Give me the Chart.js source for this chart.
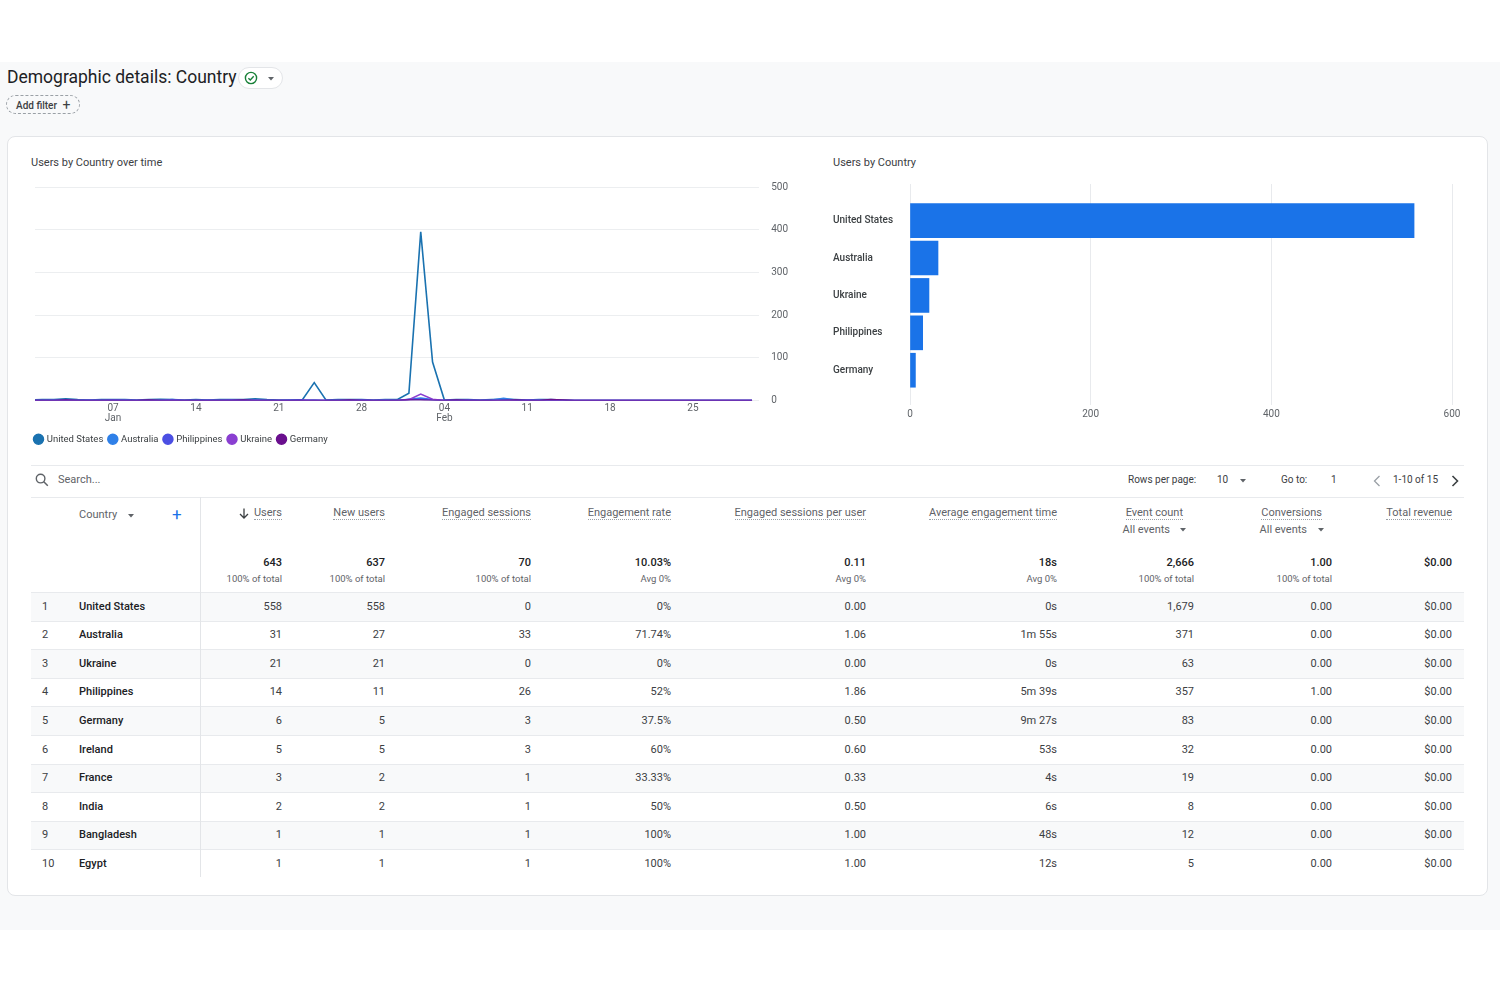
<!DOCTYPE html>
<html>
<head>
<meta charset="utf-8">
<script src="https://cdn.jsdelivr.net/npm/chart.js@4.4.1/dist/chart.umd.min.js"></script>
<style>
  body { margin: 0; width: 1500px; height: 1000px; background: #fff; font-family: Roboto, Arial, sans-serif; position: relative; overflow: hidden; }
  .bg { position: absolute; left: 0; top: 62px; width: 1500px; height: 868px; background: #f8f9fa; }
  .abs { position: absolute; white-space: nowrap; }
  .abs svg { display: block; }
  .card { position: absolute; left: 7px; top: 136px; width: 1481px; height: 760px; background: #fff; border: 1px solid #e3e5e8; border-radius: 8px; box-sizing: border-box; }
  .title { left: 7px; top: 67px; font-size: 17.5px; color: #202124; }
  .pill { left: 238px; top: 67px; width: 45px; height: 22px; border: 1px solid #e3e5e8; border-radius: 11px; background: #fff; box-sizing: border-box; }
  .filter { left: 6px; top: 95px; width: 74px; height: 19px; border: 1px dashed #9aa0a6; border-radius: 10px; box-sizing: border-box; font-size: 10px; font-weight: 500; color: #3c4043; line-height: 17px; padding-left: 9px; }
  .ctitle { font-size: 11px; color: #3c4043; }
  .hline { position: absolute; height: 1px; background: #e8eaed; }
  .vline { position: absolute; width: 1px; background: #e3e5e8; }
  .hdr { font-size: 11px; color: #5f6368; border-bottom: 1px dotted #9aa0a6; line-height: 13px; }
  .sub { font-size: 11px; color: #5f6368; }
  .tot { font-size: 11px; font-weight: 500; color: #202124; }
  .totsub { font-size: 9.5px; color: #5f6368; }
  .cell { font-size: 11px; color: #3c4043; line-height: 14px; }
  .name { font-size: 11px; font-weight: 500; color: #202124; line-height: 14px; }
  .rowbg { position: absolute; left: 31px; width: 1433px; background: #f8f9fa; }
  .pager { font-size: 10px; color: #3c4043; }
  .flex { display: flex; align-items: center; }
</style>
</head>
<body>
<div class="bg"></div>
<div class="abs title">Demographic details: Country</div>
<div class="abs pill">
  <svg width="14" height="14" viewBox="0 0 14 14" style="position:absolute;left:5px;top:3px">
    <circle cx="7" cy="7" r="5.6" fill="none" stroke="#188038" stroke-width="1.4"/>
    <path d="M4.4 7.2 L6.3 9 L9.7 5.3" fill="none" stroke="#188038" stroke-width="1.4"/>
  </svg>
  <svg width="8" height="6" viewBox="0 0 8 6" style="position:absolute;left:28px;top:8px"><path d="M1 1 L7 1 L4 4.5 Z" fill="#5f6368"/></svg>
</div>
<div class="abs filter">Add filter <span style="font-size:14px;font-weight:400;position:relative;top:1px;margin-left:3px">+</span></div>

<div class="card"></div>
<div class="abs ctitle" style="left:31px;top:156px">Users by Country over time</div>
<div class="abs ctitle" style="left:833px;top:156px">Users by Country</div>

<div class="abs" style="left:20px;top:169px;width:780px;height:285px"><canvas id="lineChart"></canvas></div>
<div class="abs" style="left:825px;top:175px;width:650px;height:255px"><canvas id="barChart"></canvas></div>

<div id="table"></div>

<script>
// ---- line chart data (one value per day, Dec 31 .. Mar 1) ----
const firstDay = -1; // day index of first value, Jan 1 = 0
const usDaily = [1,2,2,4,2,1,2,2,2,1,2,3,2,1,2,1,2,2,2,4,2,1,1,2,42,1,2,2,2,1,2,2,17,395,90,1,2,2,1,2,3,2,1,2,2,1,0,0,0,0,0,0,0,0,0,0,0,0,0,0,0,0];
const australiaDaily = [0,0,1,0,0,1,0,0,1,0,0,0,2,0,0,1,0,0,0,1,0,0,1,0,1,0,0,1,0,0,1,0,3,6,2,0,1,0,0,1,5,1,0,1,0,0,0,0,0,0,0,0,0,0,0,0,0,0,0,0,0,0];
const philippinesDaily = [0,0,0,1,0,0,0,1,0,0,0,0,1,0,0,0,0,1,0,0,0,0,0,1,0,0,0,0,1,0,0,0,2,3,1,0,0,1,0,0,0,0,1,0,0,0,0,0,0,0,0,0,0,0,0,0,0,0,0,0,0,0];
const ukraineDaily = [0,0,0,0,0,0,0,0,0,0,0,0,0,0,0,0,0,0,0,0,0,0,0,0,0,0,0,0,0,0,0,0,2,15,3,0,0,0,0,0,0,0,0,0,0,0,0,0,0,0,0,0,0,0,0,0,0,0,0,0,0,0];
const germanyDaily = [0,0,0,1,0,0,0,0,0,0,1,0,0,0,0,0,0,0,1,0,0,0,0,0,0,0,0,1,0,0,0,0,1,1,0,0,1,0,0,0,0,1,0,0,2,1,0,0,0,0,0,0,0,0,0,0,0,0,0,0,0,0];
const seriesNames = ['United States', 'Australia', 'Philippines', 'Ukraine', 'Germany'];
const seriesColors = ['#1a72b0', '#2f80e8', '#4b4fe3', '#8a3fd1', '#6a0f8e'];
const dateTickDays = [6, 13, 20, 27, 34, 41, 48, 55];
const dateTickLabels = [['07', 'Jan'], '14', '21', '28', ['04', 'Feb'], '11', '18', '25'];
const userTicks = [0, 100, 200, 300, 400, 500];

// ---- bar chart data ----
const barCountries = ['United States', 'Australia', 'Ukraine', 'Philippines', 'Germany'];
const barUsers = [558, 31, 21, 14, 6];
const barTicks = [0, 200, 400, 600];

// ---- table data ----
const countries = ['United States', 'Australia', 'Ukraine', 'Philippines', 'Germany', 'Ireland', 'France', 'India', 'Bangladesh', 'Egypt'];
const users = ['558', '31', '21', '14', '6', '5', '3', '2', '1', '1'];
const newUsers = ['558', '27', '21', '11', '5', '5', '2', '2', '1', '1'];
const engagedSessions = ['0', '33', '0', '26', '3', '3', '1', '1', '1', '1'];
const engagementRate = ['0%', '71.74%', '0%', '52%', '37.5%', '60%', '33.33%', '50%', '100%', '100%'];
const sessionsPerUser = ['0.00', '1.06', '0.00', '1.86', '0.50', '0.60', '0.33', '0.50', '1.00', '1.00'];
const avgEngagementTime = ['0s', '1m 55s', '0s', '5m 39s', '9m 27s', '53s', '4s', '6s', '48s', '12s'];
const eventCount = ['1,679', '371', '63', '357', '83', '32', '19', '8', '12', '5'];
const conversions = ['0.00', '0.00', '0.00', '1.00', '0.00', '0.00', '0.00', '0.00', '0.00', '0.00'];
const totalRevenue = ['$0.00', '$0.00', '$0.00', '$0.00', '$0.00', '$0.00', '$0.00', '$0.00', '$0.00', '$0.00'];
const metricHeaders = ['Users', 'New users', 'Engaged sessions', 'Engagement rate', 'Engaged sessions per user', 'Average engagement time', 'Event count', 'Conversions', 'Total revenue'];
const totals = ['643', '637', '70', '10.03%', '0.11', '18s', '2,666', '1.00', '$0.00'];
const totalNotes = ['100% of total', '100% of total', '100% of total', 'Avg 0%', 'Avg 0%', 'Avg 0%', '100% of total', '100% of total', ''];

Chart.defaults.font.family = 'Roboto, Arial, sans-serif';

function toPoints(values) {
  return values.map((v, i) => ({ x: firstDay + i, y: v }));
}

const allDaily = [usDaily, australiaDaily, philippinesDaily, ukraineDaily, germanyDaily];

// the legend sits a little left of the plot area in the reference
const legendShift = {
  id: 'legendShift',
  afterLayout(chart) {
    if (chart.legend) { chart.legend.left -= 6; chart.legend.right -= 6; }
  }
};

new Chart(document.getElementById('lineChart'), {
  type: 'line',
  data: {
    datasets: allDaily.map((vals, i) => ({
      label: seriesNames[i],
      data: toPoints(vals),
      borderColor: seriesColors[i],
      backgroundColor: seriesColors[i],
      borderWidth: 1.6,
      pointRadius: 0,
      tension: 0
    })).reverse()
  },
  plugins: [legendShift],
  options: {
    responsive: true,
    maintainAspectRatio: false,
    animation: false,
    layout: { padding: { left: 15, top: 6 } },
    plugins: {
      tooltip: { enabled: false },
      legend: {
        position: 'bottom',
        align: 'start',
        reverse: true,
        labels: { usePointStyle: true, pointStyle: 'circle', boxWidth: 7, boxHeight: 7, padding: 6, color: '#3c4043', font: { size: 9.5 } }
      }
    },
    scales: {
      x: {
        type: 'linear',
        min: -0.6,
        max: 60.6,
        grid: { display: false, drawTicks: false, tickLength: 0 },
        border: { display: false },
        afterBuildTicks: (axis) => { axis.ticks = dateTickDays.map(v => ({ value: v })); },
        afterFit: (axis) => { axis.height = 28; },
        ticks: {
          maxRotation: 0,
          padding: 3,
          color: '#5f6368',
          font: { size: 10, lineHeight: 1 },
          callback: (value) => dateTickLabels[dateTickDays.indexOf(value)]
        }
      },
      y: {
        position: 'right',
        min: 0,
        max: 500,
        afterBuildTicks: (axis) => { axis.ticks = userTicks.map(v => ({ value: v })); },
        grid: { color: '#eceef0', drawTicks: false },
        border: { display: false },
        ticks: { padding: 12, color: '#5f6368', font: { size: 10 } }
      }
    }
  }
});

new Chart(document.getElementById('barChart'), {
  type: 'bar',
  data: {
    datasets: [{
      data: barUsers.map((v, i) => ({ x: v, y: i })),
      backgroundColor: '#1a73e8',
      barThickness: 34
    }]
  },
  options: {
    indexAxis: 'y',
    responsive: true,
    maintainAspectRatio: false,
    animation: false,
    layout: { padding: { left: 8, top: 7, right: 23 } },
    plugins: { legend: { display: false }, tooltip: { enabled: false } },
    scales: {
      x: {
        min: 0,
        max: 600,
        afterBuildTicks: (axis) => { axis.ticks = barTicks.map(v => ({ value: v })); },
        afterFit: (axis) => { axis.height = 25; },
        grid: { color: '#e8eaed', drawTicks: false },
        border: { display: false },
        ticks: { padding: 3, color: '#5f6368', font: { size: 10 } }
      },
      y: {
        type: 'linear',
        reverse: true,
        offset: false,
        min: -0.98,
        max: 4.93,
        afterBuildTicks: (axis) => { axis.ticks = barCountries.map((c, i) => ({ value: i })); },
        afterFit: (axis) => { axis.width = 77; },
        grid: { display: false, offset: false },
        border: { display: false },
        ticks: {
          crossAlign: 'far',
          color: '#3c4043',
          font: { size: 10, weight: '500' },
          callback: (value) => barCountries[value]
        }
      }
    }
  }
});

// ---- table (plain HTML) ----
const table = document.getElementById('table');
function put(html, cls, left, top, extra) {
  const d = document.createElement('div');
  d.className = 'abs ' + cls;
  d.innerHTML = html;
  d.style.left = left + 'px';
  d.style.top = top + 'px';
  if (extra) Object.assign(d.style, extra);
  table.appendChild(d);
  return d;
}
function putRight(html, cls, right, top, extra) {
  const d = put(html, cls, 0, top, extra);
  d.style.left = 'auto';
  d.style.right = (1500 - right) + 'px';
  return d;
}
function line(left, top, width) {
  const d = document.createElement('div');
  d.className = 'hline';
  Object.assign(d.style, { left: left + 'px', top: top + 'px', width: width + 'px' });
  table.appendChild(d);
}

const rowTop = 592;
const rowH = 28.6;
for (let r = 0; r < countries.length; r++) {
  if (r % 2 === 0) {
    const bg = document.createElement('div');
    bg.className = 'rowbg';
    bg.style.top = (rowTop + r * rowH) + 'px';
    bg.style.height = rowH + 'px';
    table.appendChild(bg);
  }
}
line(31, 465, 1433);
line(31, 497, 1433);
for (let r = 0; r < countries.length; r++) line(31, Math.round(rowTop + r * rowH), 1433);
const vl = document.createElement('div');
vl.className = 'vline';
Object.assign(vl.style, { left: '200px', top: '497px', height: '380px' });
table.appendChild(vl);

const caret = '<svg width="8" height="6" viewBox="0 0 8 6"><path d="M1 1 L7 1 L4 4.5 Z" fill="#5f6368"/></svg>';

// search row
put('<svg width="14" height="14" viewBox="0 0 14 14"><circle cx="5.6" cy="5.6" r="4.3" fill="none" stroke="#5f6368" stroke-width="1.4"/><path d="M8.8 8.8 L12.8 12.8" stroke="#5f6368" stroke-width="1.5"/></svg>', '', 35, 473);
put('Search...', 'sub', 58, 473);
put('Rows per page:', 'pager', 1128, 474);
put('10', 'pager', 1217, 474);
put(caret, '', 1239, 478);
put('Go to:', 'pager', 1281, 474);
put('1', 'pager', 1331, 474);
put('<svg width="8" height="12" viewBox="0 0 8 12"><path d="M6.5 1 L1.5 6 L6.5 11" fill="none" stroke="#9aa0a6" stroke-width="1.3"/></svg>', '', 1373, 475);
put('1-10 of 15', 'pager', 1393, 474);
put('<svg width="8" height="12" viewBox="0 0 8 12"><path d="M1.5 1 L6.5 6 L1.5 11" fill="none" stroke="#3c4043" stroke-width="1.6"/></svg>', '', 1451, 475);

// header row
put('Country', 'sub', 79, 508);
put(caret, '', 127, 513);
put('+', '', 172, 504, { fontSize: '17px', color: '#1a73e8' });

const headerRight = [282, 385, 531, 671, 866, 1057, 1183, 1322, 1452];
const valueRight = [282, 385, 531, 671, 866, 1057, 1194, 1332, 1452];
metricHeaders.forEach((h, i) => {
  putRight(h, 'hdr', headerRight[i], 506);
  putRight(totals[i], 'tot', valueRight[i], 556);
  if (totalNotes[i]) putRight(totalNotes[i], 'totsub', valueRight[i], 573);
});
put('<svg width="10" height="11" viewBox="0 0 10 11"><path d="M5 0.5 L5 10 M1 6 L5 10 L9 6" fill="none" stroke="#3c4043" stroke-width="1.3"/></svg>', '', 239, 508);
putRight('All events <span style="display:inline-block;width:8px;margin-left:9px">' + caret + '</span>', 'sub flex', 1187, 523);
putRight('All events <span style="display:inline-block;width:8px;margin-left:10px">' + caret + '</span>', 'sub flex', 1325, 523);

// body rows
const columns = [users, newUsers, engagedSessions, engagementRate, sessionsPerUser, avgEngagementTime, eventCount, conversions, totalRevenue];
countries.forEach((c, r) => {
  const y = rowTop + r * rowH + 7.5;
  put(String(r + 1), 'cell', 42, y);
  put(c, 'name', 79, y);
  columns.forEach((col, i) => putRight(col[r], 'cell', valueRight[i], y));
});
</script>
</body>
</html>
